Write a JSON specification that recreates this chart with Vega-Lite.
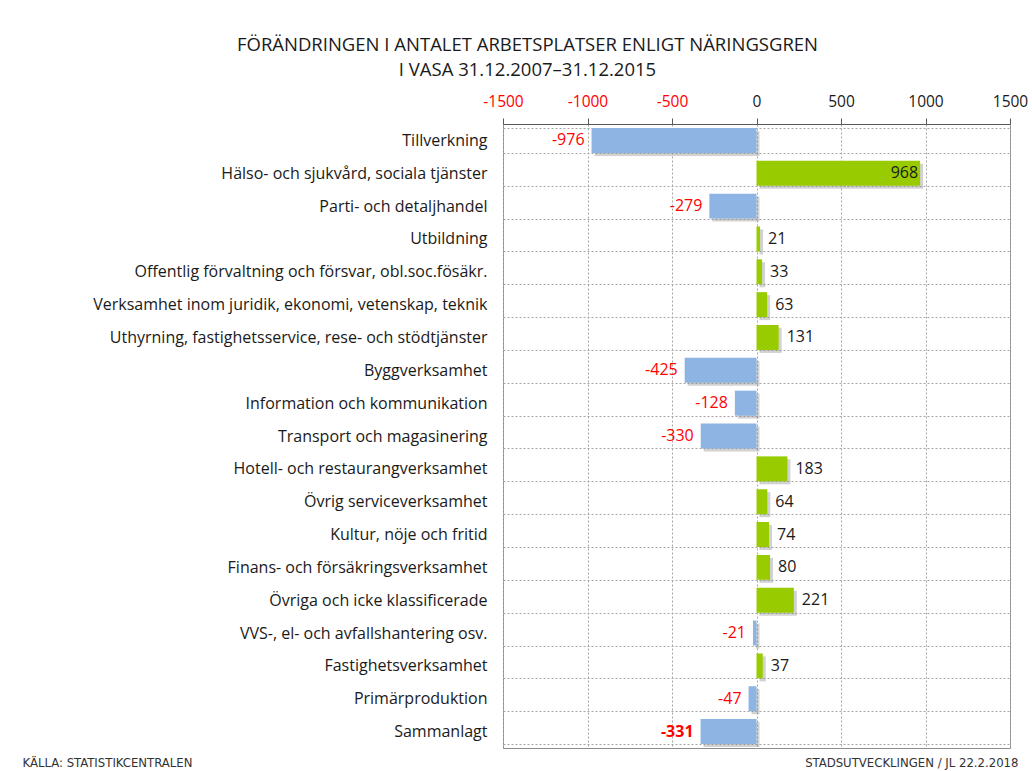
{
  "$schema": "https://vega.github.io/schema/vega-lite/v6.json",
  "autosize": {"type": "none"},
  "padding": {"left": 503, "top": 124, "right": 22, "bottom": 23},
  "width": 507,
  "height": 624,
  "background": "white",
  "title": {
    "text": ["FÖRÄNDRINGEN I ANTALET ARBETSPLATSER ENLIGT NÄRINGSGREN", "I VASA 31.12.2007–31.12.2015"],
    "anchor": "middle",
    "frame": "group",
    "dx": -229,
    "offset": 15,
    "font": "Open Sans",
    "fontSize": 18.5,
    "fontWeight": "normal",
    "color": "#1a1a1a",
    "lineHeight": 25
  },
  "config": {
    "view": {"stroke": "#8c8c8c", "strokeWidth": 1},
    "font": "Open Sans"
  },
  "resolve": {"axis": {"x": "independent"}},
  "data": {
    "values": [
      {"sektor": "Tillverkning", "value": -976},
      {"sektor": "Hälso- och sjukvård, sociala tjänster", "value": 968},
      {"sektor": "Parti- och detaljhandel", "value": -279},
      {"sektor": "Utbildning", "value": 21},
      {"sektor": "Offentlig förvaltning och försvar, obl.soc.fösäkr.", "value": 33},
      {"sektor": "Verksamhet inom juridik, ekonomi, vetenskap, teknik", "value": 63},
      {"sektor": "Uthyrning, fastighetsservice, rese- och stödtjänster", "value": 131},
      {"sektor": "Byggverksamhet", "value": -425},
      {"sektor": "Information och kommunikation", "value": -128},
      {"sektor": "Transport och magasinering", "value": -330},
      {"sektor": "Hotell- och restaurangverksamhet", "value": 183},
      {"sektor": "Övrig serviceverksamhet", "value": 64},
      {"sektor": "Kultur, nöje och fritid", "value": 74},
      {"sektor": "Finans- och försäkringsverksamhet", "value": 80},
      {"sektor": "Övriga och icke klassificerade", "value": 221},
      {"sektor": "VVS-, el- och avfallshantering osv.", "value": -21},
      {"sektor": "Fastighetsverksamhet", "value": 37},
      {"sektor": "Primärproduktion", "value": -47},
      {"sektor": "Sammanlagt", "value": -331}
    ]
  },
  "encoding": {
    "y": {
      "field": "sektor",
      "type": "nominal",
      "sort": null,
      "scale": {"paddingInner": 0.24, "paddingOuter": 0.12},
      "axis": {
        "orient": "left",
        "ticks": false,
        "domain": false,
        "grid": true,
        "tickBand": "extent",
        "gridColor": "#a6a6a6",
        "gridDash": [2, 2],
        "gridWidth": 1,
        "labelFont": "Open Sans",
        "labelFontSize": 16,
        "labelColor": "#1a1a1a",
        "labelPadding": 16,
        "labelLimit": 500,
        "title": "STADSUTVECKLINGEN / JL 22.2.2018",
        "titleAngle": 0,
        "titleX": 515,
        "titleY": 638,
        "titleAlign": "right",
        "titleBaseline": "middle",
        "titleFont": "DejaVu Sans Condensed",
        "titleFontSize": 13,
        "titleFontWeight": "normal",
        "titleColor": "#333333"
      }
    }
  },
  "layer": [
    {
      "mark": {"type": "bar", "xOffset": 3, "yOffset": 3, "color": "#7f7f7f", "opacity": 0.35},
      "encoding": {
        "x": {
          "field": "value",
          "type": "quantitative",
          "scale": {"domain": [-1500, 1500], "nice": false},
          "axis": {
            "orient": "top",
            "values": [-1500, -1000, -500, 0, 500, 1000, 1500],
            "labelExpr": "replace(datum.label, '−', '-')",
            "format": "d",
            "labelFlush": false,
            "labelOverlap": false,
            "grid": true,
            "gridColor": "#a6a6a6",
            "gridDash": [2, 2],
            "domain": true,
            "domainColor": "#595959",
            "tickColor": "#595959",
            "tickSize": 6,
            "labelPadding": 9,
            "labelFont": "Open Sans",
            "labelFontSize": 15.5,
            "labelColor": {"condition": {"test": "datum.value < 0", "value": "#ff0000"}, "value": "#1a1a1a"},
            "title": null
          }
        }
      }
    },
    {
      "mark": {"type": "bar"},
      "encoding": {
        "x": {"field": "value", "type": "quantitative", "axis": null},
        "color": {"condition": {"test": "datum.value < 0", "value": "#8db4e2"}, "value": "#99cc00"}
      }
    },
    {
      "mark": {"type": "rule", "color": "#262626", "strokeWidth": 1.5},
      "encoding": {
        "x": {
          "datum": 0,
          "type": "quantitative",
          "axis": {
            "orient": "bottom",
            "labels": false,
            "ticks": false,
            "domain": false,
            "grid": false,
            "title": "KÄLLA: STATISTIKCENTRALEN",
            "titleX": -481,
            "titleY": 14,
            "titleAlign": "left",
            "titleAnchor": "start",
            "titleBaseline": "middle",
            "titleFont": "DejaVu Sans Condensed",
            "titleFontSize": 13,
            "titleFontWeight": "normal",
            "titleColor": "#333333"
          }
        }
      }
    },
    {
      "transform": [{"filter": "datum.value < 0 && datum.sektor != 'Sammanlagt'"}],
      "mark": {"type": "text", "align": "right", "baseline": "middle", "dx": -7, "fontSize": 16, "color": "#ff0000", "font": "Open Sans"},
      "encoding": {"x": {"field": "value", "type": "quantitative", "axis": null}, "text": {"field": "value", "type": "nominal"}}
    },
    {
      "transform": [{"filter": "datum.sektor == 'Sammanlagt'"}],
      "mark": {"type": "text", "align": "right", "baseline": "middle", "dx": -7, "fontSize": 16, "fontWeight": "bold", "color": "#ff0000", "font": "Open Sans"},
      "encoding": {"x": {"field": "value", "type": "quantitative", "axis": null}, "text": {"field": "value", "type": "nominal"}}
    },
    {
      "transform": [{"filter": "datum.value > 0 && datum.value < 900"}],
      "mark": {"type": "text", "align": "left", "baseline": "middle", "dx": 8, "fontSize": 16, "color": "#1a1a1a", "font": "Open Sans"},
      "encoding": {"x": {"field": "value", "type": "quantitative", "axis": null}, "text": {"field": "value", "type": "nominal"}}
    },
    {
      "transform": [{"filter": "datum.value >= 900"}],
      "mark": {"type": "text", "align": "right", "baseline": "middle", "dx": -2, "fontSize": 16, "color": "#1a1a1a", "font": "Open Sans"},
      "encoding": {"x": {"field": "value", "type": "quantitative", "axis": null}, "text": {"field": "value", "type": "nominal"}}
    }
  ]
}
